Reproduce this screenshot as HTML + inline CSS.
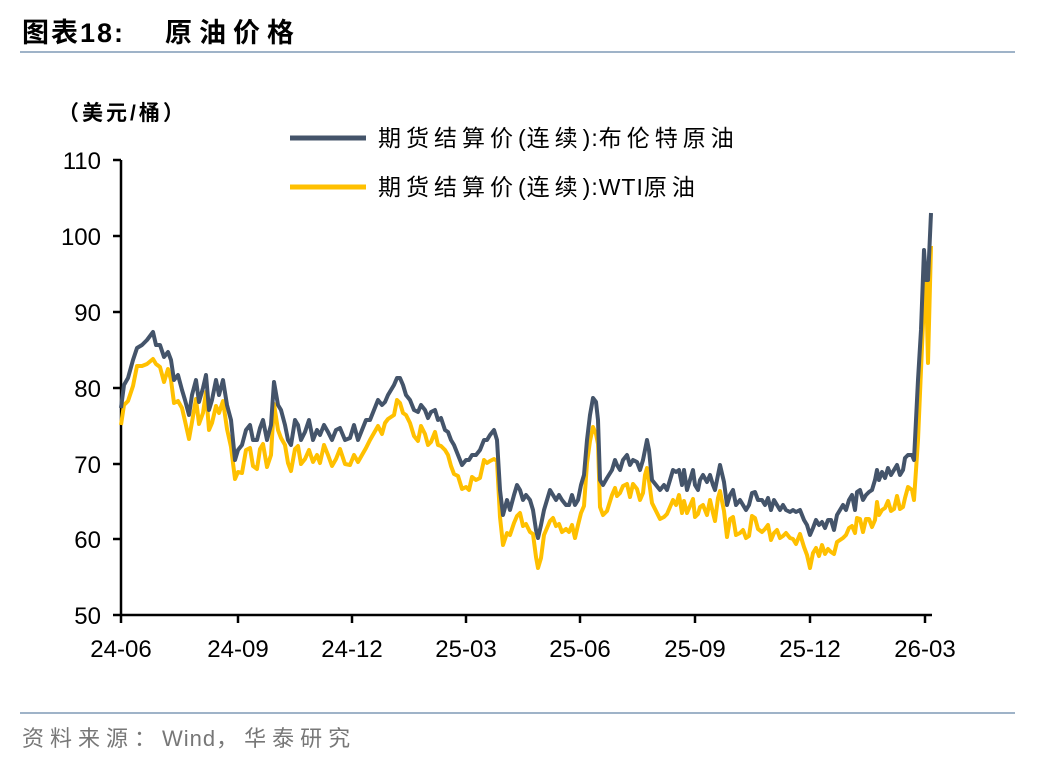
<!DOCTYPE html>
<html><head><meta charset="utf-8"><style>
body{margin:0;background:#fff;width:1048px;height:764px;overflow:hidden;font-family:"Liberation Sans","Noto Sans CJK SC",sans-serif}
</style></head><body>
<svg id="s" width="1048" height="764" xmlns="http://www.w3.org/2000/svg" font-family="Liberation Sans, Noto Sans CJK SC, sans-serif">
<text x="22" y="42" font-size="27" font-weight="bold" fill="#000" letter-spacing="2">图表18:</text>
<text x="165" y="42" font-size="27" font-weight="bold" fill="#000" letter-spacing="7">原油价格</text>
<line x1="20" y1="52" x2="1015" y2="52" stroke="#9fb3c8" stroke-width="2"/>
<text x="58" y="120" font-size="21" font-weight="bold" fill="#000" letter-spacing="3">（美元/桶）</text>
<line x1="290" y1="138" x2="366" y2="138" stroke="#44546a" stroke-width="5"/>
<text x="378" y="146" font-size="23" fill="#000" letter-spacing="5">期货结算价<tspan letter-spacing="1">(</tspan>连续<tspan letter-spacing="1">):</tspan>布伦特原油</text>
<line x1="290" y1="187" x2="366" y2="187" stroke="#ffc000" stroke-width="5"/>
<text x="378" y="195" font-size="23" fill="#000" letter-spacing="5">期货结算价<tspan letter-spacing="1">(</tspan>连续<tspan letter-spacing="1">):WTI</tspan>原油</text>
<g font-size="24" fill="#000" text-anchor="end">
<text x="101" y="169">110</text><text x="101" y="245">100</text><text x="101" y="321">90</text>
<text x="101" y="397">80</text><text x="101" y="473">70</text><text x="101" y="548">60</text><text x="101" y="624">50</text>
</g>
<g stroke="#000" stroke-width="2.5">
<line x1="121" y1="160" x2="121" y2="616"/><line x1="120" y1="615" x2="932" y2="615"/>
<line x1="113" y1="160" x2="121" y2="160"/><line x1="113" y1="236" x2="121" y2="236"/><line x1="113" y1="312" x2="121" y2="312"/><line x1="113" y1="388" x2="121" y2="388"/><line x1="113" y1="464" x2="121" y2="464"/><line x1="113" y1="539" x2="121" y2="539"/><line x1="113" y1="615" x2="121" y2="615"/>
<line x1="121" y1="615" x2="121" y2="623"/><line x1="238" y1="615" x2="238" y2="623"/><line x1="352" y1="615" x2="352" y2="623"/><line x1="466" y1="615" x2="466" y2="623"/><line x1="580" y1="615" x2="580" y2="623"/><line x1="695" y1="615" x2="695" y2="623"/><line x1="810" y1="615" x2="810" y2="623"/><line x1="925" y1="615" x2="925" y2="623"/>
</g>
<g font-size="24" fill="#000" text-anchor="middle">
<text x="121" y="657">24-06</text><text x="238" y="657">24-09</text><text x="352" y="657">24-12</text><text x="466" y="657">25-03</text><text x="580" y="657">25-06</text><text x="695" y="657">25-09</text><text x="810" y="657">25-12</text><text x="925" y="657">26-03</text>
</g>
<line x1="20" y1="713" x2="1015" y2="713" stroke="#9fb3c8" stroke-width="2"/>
<text x="22" y="746" font-size="22" fill="#777" letter-spacing="6">资料来源：<tspan letter-spacing="1">Wind</tspan>，华泰研究</text>
<polyline id="w" fill="none" stroke="#ffc000" stroke-width="4" stroke-linejoin="round"/>
<polyline id="b" fill="none" stroke="#44546a" stroke-width="4" stroke-linejoin="round"/>
</svg>
<script>
var B=[121,408,124,385,128,378,133,360,137,348,142,345,147,340,153,332,156,345,160,345,164,357,168,352,171,360,174,380,178,375,182,390,185,400,189,415,192,395,196,380,199,402,203,388,206,375,209,410,212,400,216,380,219,395,223,380,227,405,231,420,235,460,238,450,242,445,246,430,250,425,253,440,257,440,260,428,263,420,267,440,271,425,274,382,278,405,281,410,285,425,288,440,291,445,295,420,298,425,301,440,305,432,309,420,313,440,317,430,320,435,324,425,328,432,332,440,336,430,340,428,345,440,350,438,354,425,358,440,362,430,366,420,370,420,374,410,378,400,382,405,385,402,388,395,391,390,394,385,397,378,400,378,403,385,406,395,410,400,414,410,418,412,421,405,425,410,428,418,431,412,435,410,438,420,441,418,445,430,448,432,451,440,454,445,458,455,462,465,466,460,469,460,472,455,476,455,480,450,484,440,487,440,490,435,494,430,497,440,500,490,503,515,507,500,510,510,514,495,517,485,520,490,523,500,526,495,530,500,533,510,536,530,538,538,541,525,544,510,547,500,550,490,553,495,556,500,559,495,562,500,566,505,569,505,572,495,575,505,578,500,581,485,584,475,587,440,590,415,593,398,596,402,598,420,600,480,603,485,607,478,612,470,615,460,617,465,620,470,623,460,627,455,630,465,633,460,637,462,640,470,643,460,645,450,647,440,649,450,652,480,656,485,660,490,664,485,667,490,670,480,673,470,676,472,679,470,682,485,684,470,687,490,690,480,693,470,695,485,698,490,700,480,703,475,707,482,710,475,713,485,715,490,718,475,720,465,724,482,727,505,730,495,733,490,736,505,740,500,743,505,746,510,749,505,752,493,755,492,758,500,762,500,765,505,768,498,771,510,774,500,777,505,780,510,783,505,786,510,790,512,793,510,796,512,800,510,804,520,807,525,810,535,813,528,816,520,819,525,822,522,825,528,828,520,831,520,834,530,837,515,840,510,843,505,846,510,849,500,852,495,855,510,857,492,860,490,863,500,866,495,869,492,872,490,875,480,877,470,879,480,882,472,885,478,888,468,891,475,894,470,897,465,900,475,903,470,905,458,908,455,912,455];
var b=[],w=[];
for(var i=0;i<B.length;i+=2){var x=B[i],y=B[i+1];b.push(x+","+y);
var off=x<240?22:(x<500?25:(x<870?28:35));off+=((i*7)%11)-5;w.push(x+","+(y+off));}
b.push("914,460","918,380","921,330","924,250","926,280","928,280","931,213");
w.push("914,500","918,440","921,370","924,300","926,280","928,363","931,246");
document.getElementById('b').setAttribute('points',b.join(' '));
document.getElementById('w').setAttribute('points',w.join(' '));
</script>
</body></html>
